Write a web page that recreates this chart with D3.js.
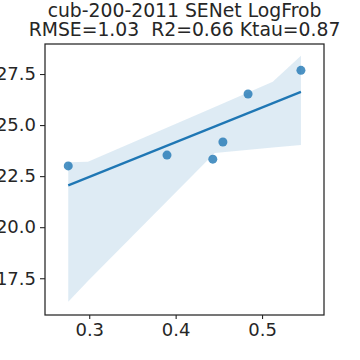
<!DOCTYPE html>
<html>
<head>
<meta charset="utf-8">
<script src="https://cdn.jsdelivr.net/npm/d3@7"></script>
<style>
  body { margin: 0; background: #fff; }
  text { font-family: "DejaVu Sans", sans-serif; fill: #262626; }
</style>
</head>
<body>
<div id="chart"></div>
<script>
// scatter points
var xVals = [0.2757, 0.390, 0.443, 0.4547, 0.4838, 0.545];
var yVals = [23.00, 23.53, 23.33, 24.17, 26.52, 27.68];

// confidence band
var bandX = [0.2757, 0.2985, 0.4453, 0.5124, 0.545];
var bandLow = [16.35, 17.36, 23.63, 23.90, 24.03];
var bandHigh = [23.18, 23.20, 25.89, 27.12, 28.40];

var xTicks = [0.3, 0.4, 0.5];
var yTicks = [17.5, 20.0, 22.5, 25.0, 27.5];

var titleLines = ["cub-200-2011 SENet LogFrob", "RMSE=1.03  R2=0.66 Ktau=0.87"];

function fitLine(xs, ys) {
  var mx = d3.mean(xs), my = d3.mean(ys);
  var num = 0, den = 0;
  for (var i = 0; i < xs.length; i++) {
    num += (xs[i] - mx) * (ys[i] - my);
    den += (xs[i] - mx) * (xs[i] - mx);
  }
  var b = num / den;
  return {slope: b, intercept: my - b * mx};
}

var margin = {top: 44, right: 36, bottom: 45, left: 45},
  width = 360 - margin.left - margin.right,
  height = 360 - margin.top - margin.bottom;

var x = d3.scaleLinear()
  .domain([0.2488, 0.5717])
  .range([0, width]);
var y = d3.scaleLinear()
  .domain([15.7, 28.97])
  .range([height, 0]);

var svg = d3.select("#chart").append("svg")
    .attr("width", 360)
    .attr("height", 360)
  .append("g")
    .attr("transform", "translate(" + margin.left + "," + margin.top + ")");

// band
var band = bandX.map(function(d, i) { return [d, bandLow[i], bandHigh[i]]; });
svg.append("path")
  .datum(band)
  .attr("d", d3.area()
    .x(function(d) { return x(d[0]); })
    .y0(function(d) { return y(d[1]); })
    .y1(function(d) { return y(d[2]); }))
  .style("fill", "#1f77b4")
  .style("fill-opacity", 0.15);

// regression line
var fit = fitLine(xVals, yVals);
var x0 = d3.min(xVals), x1 = d3.max(xVals);
svg.append("line")
  .attr("x1", x(x0))
  .attr("y1", y(fit.intercept + fit.slope * x0))
  .attr("x2", x(x1))
  .attr("y2", y(fit.intercept + fit.slope * x1))
  .style("stroke", "#1f77b4")
  .style("stroke-width", 2.2);

// points
svg.selectAll("circle")
  .data(xVals)
  .enter().append("circle")
    .attr("cx", function(d) { return x(d); })
    .attr("cy", function(d, i) { return y(yVals[i]); })
    .attr("r", 4.5)
    .style("fill", "#1f77b4")
    .style("fill-opacity", 0.8);

// axes
var xAxis = svg.append("g")
  .attr("transform", "translate(0," + height + ")")
  .call(d3.axisBottom(x).tickValues(xTicks).tickFormat(d3.format(".1f")).tickSize(4).tickPadding(4));
var yAxis = svg.append("g")
  .call(d3.axisLeft(y).tickValues(yTicks).tickFormat(d3.format(".1f")).tickSize(5).tickPadding(4));

[xAxis, yAxis].forEach(function(a) {
  a.select(".domain").remove();
  a.selectAll("line").style("stroke", "#262626").style("stroke-width", 1.1);
  a.selectAll("text").style("font-size", "18px").style("fill", "#262626");
});

// frame
svg.append("rect")
  .attr("width", width)
  .attr("height", height)
  .style("fill", "none")
  .style("stroke", "#262626")
  .style("stroke-width", 1.25);

// title (keep the double space)
svg.selectAll(".title")
  .data(titleLines)
  .enter().append("text")
    .attr("class", "title")
    .attr("x", width / 2)
    .attr("y", function(d, i) { return -27 + i * 19; })
    .attr("text-anchor", "middle")
    .style("font-size", "18.8px")
    .style("white-space", "pre")
    .text(function(d) { return d; });
</script>
</body>
</html>
